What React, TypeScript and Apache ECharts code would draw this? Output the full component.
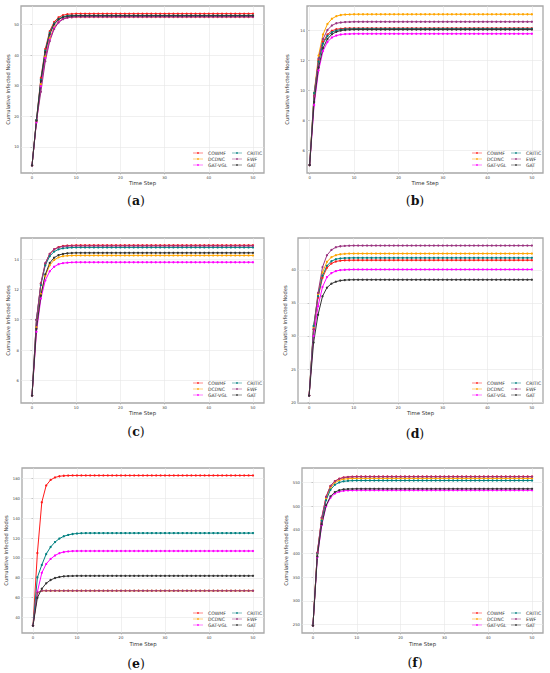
import React, { useEffect, useRef } from "react";
import * as echarts from "echarts";

const METHODS = ["COWMF", "DCDNC", "GAT-VGL", "CRITIC", "EWF", "GAT"];
const COLORS = ["#ff1a1a", "#ffa500", "#ff00ff", "#008080", "#9a3480", "#333333"];

const TIME_STEPS = [
  0, 1, 2, 3, 4, 5, 6, 7, 8, 9, 10, 11, 12, 13, 14, 15, 16, 17, 18, 19, 20, 21, 22, 23, 24, 25,
  26, 27, 28, 29, 30, 31, 32, 33, 34, 35, 36, 37, 38, 39, 40, 41, 42, 43, 44, 45, 46, 47, 48, 49, 50,
];
const X_TICKS = [0, 10, 20, 30, 40, 50];

// ---- (a) ----
const A_Y_TICKS = [10, 20, 30, 40, 50];
const A_COWMF = [4, 18.8, 32.5, 42.0, 47.8, 50.8, 52.3, 53.0, 53.3, 53.4, 53.5,
  53.5, 53.5, 53.5, 53.5, 53.5, 53.5, 53.5, 53.5, 53.5, 53.5,
  53.5, 53.5, 53.5, 53.5, 53.5, 53.5, 53.5, 53.5, 53.5, 53.5,
  53.5, 53.5, 53.5, 53.5, 53.5, 53.5, 53.5, 53.5, 53.5, 53.5,
  53.5, 53.5, 53.5, 53.5, 53.5, 53.5, 53.5, 53.5, 53.5, 53.5];
const A_DCDNC = [4, 18.3, 30.5, 39.5, 45.5, 49.0, 50.9, 51.8, 52.2, 52.3, 52.4,
  52.4, 52.4, 52.4, 52.4, 52.4, 52.4, 52.4, 52.4, 52.4, 52.4,
  52.4, 52.4, 52.4, 52.4, 52.4, 52.4, 52.4, 52.4, 52.4, 52.4,
  52.4, 52.4, 52.4, 52.4, 52.4, 52.4, 52.4, 52.4, 52.4, 52.4,
  52.4, 52.4, 52.4, 52.4, 52.4, 52.4, 52.4, 52.4, 52.4, 52.4];
const A_GATVGL = [4, 18.0, 29.8, 39.0, 45.0, 48.8, 50.8, 51.8, 52.2, 52.4, 52.5,
  52.5, 52.5, 52.5, 52.5, 52.5, 52.5, 52.5, 52.5, 52.5, 52.5,
  52.5, 52.5, 52.5, 52.5, 52.5, 52.5, 52.5, 52.5, 52.5, 52.5,
  52.5, 52.5, 52.5, 52.5, 52.5, 52.5, 52.5, 52.5, 52.5, 52.5,
  52.5, 52.5, 52.5, 52.5, 52.5, 52.5, 52.5, 52.5, 52.5, 52.5];
const A_CRITIC = [4, 18.8, 32.0, 41.5, 47.3, 50.3, 51.8, 52.5, 52.8, 52.9, 52.9,
  52.9, 52.9, 52.9, 52.9, 52.9, 52.9, 52.9, 52.9, 52.9, 52.9,
  52.9, 52.9, 52.9, 52.9, 52.9, 52.9, 52.9, 52.9, 52.9, 52.9,
  52.9, 52.9, 52.9, 52.9, 52.9, 52.9, 52.9, 52.9, 52.9, 52.9,
  52.9, 52.9, 52.9, 52.9, 52.9, 52.9, 52.9, 52.9, 52.9, 52.9];
const A_EWF = [4, 18.5, 28.0, 38.0, 44.5, 48.5, 50.6, 51.7, 52.2, 52.4, 52.5,
  52.5, 52.5, 52.5, 52.5, 52.5, 52.5, 52.5, 52.5, 52.5, 52.5,
  52.5, 52.5, 52.5, 52.5, 52.5, 52.5, 52.5, 52.5, 52.5, 52.5,
  52.5, 52.5, 52.5, 52.5, 52.5, 52.5, 52.5, 52.5, 52.5, 52.5,
  52.5, 52.5, 52.5, 52.5, 52.5, 52.5, 52.5, 52.5, 52.5, 52.5];
const A_GAT = [4, 18.6, 31.5, 41.0, 46.8, 50.0, 51.6, 52.3, 52.6, 52.7, 52.8,
  52.8, 52.8, 52.8, 52.8, 52.8, 52.8, 52.8, 52.8, 52.8, 52.8,
  52.8, 52.8, 52.8, 52.8, 52.8, 52.8, 52.8, 52.8, 52.8, 52.8,
  52.8, 52.8, 52.8, 52.8, 52.8, 52.8, 52.8, 52.8, 52.8, 52.8,
  52.8, 52.8, 52.8, 52.8, 52.8, 52.8, 52.8, 52.8, 52.8, 52.8];

// ---- (b) ----
const B_Y_TICKS = [6, 8, 10, 12, 14];
const B_COWMF = [5, 9.6, 12.0, 13.2, 13.7, 13.95, 14.05, 14.09, 14.11, 14.12, 14.12,
  14.12, 14.12, 14.12, 14.12, 14.12, 14.12, 14.12, 14.12, 14.12, 14.12,
  14.12, 14.12, 14.12, 14.12, 14.12, 14.12, 14.12, 14.12, 14.12, 14.12,
  14.12, 14.12, 14.12, 14.12, 14.12, 14.12, 14.12, 14.12, 14.12, 14.12,
  14.12, 14.12, 14.12, 14.12, 14.12, 14.12, 14.12, 14.12, 14.12, 14.12];
const B_DCDNC = [5, 9.8, 12.3, 13.7, 14.4, 14.75, 14.92, 15.0, 15.03, 15.04, 15.05,
  15.05, 15.05, 15.05, 15.05, 15.05, 15.05, 15.05, 15.05, 15.05, 15.05,
  15.05, 15.05, 15.05, 15.05, 15.05, 15.05, 15.05, 15.05, 15.05, 15.05,
  15.05, 15.05, 15.05, 15.05, 15.05, 15.05, 15.05, 15.05, 15.05, 15.05,
  15.05, 15.05, 15.05, 15.05, 15.05, 15.05, 15.05, 15.05, 15.05, 15.05];
const B_GATVGL = [5, 9.0, 11.3, 12.6, 13.2, 13.5, 13.63, 13.7, 13.73, 13.74, 13.75,
  13.75, 13.75, 13.75, 13.75, 13.75, 13.75, 13.75, 13.75, 13.75, 13.75,
  13.75, 13.75, 13.75, 13.75, 13.75, 13.75, 13.75, 13.75, 13.75, 13.75,
  13.75, 13.75, 13.75, 13.75, 13.75, 13.75, 13.75, 13.75, 13.75, 13.75,
  13.75, 13.75, 13.75, 13.75, 13.75, 13.75, 13.75, 13.75, 13.75, 13.75];
const B_CRITIC = [5, 9.8, 11.9, 13.1, 13.6, 13.85, 13.97, 14.03, 14.06, 14.07, 14.08,
  14.08, 14.08, 14.08, 14.08, 14.08, 14.08, 14.08, 14.08, 14.08, 14.08,
  14.08, 14.08, 14.08, 14.08, 14.08, 14.08, 14.08, 14.08, 14.08, 14.08,
  14.08, 14.08, 14.08, 14.08, 14.08, 14.08, 14.08, 14.08, 14.08, 14.08,
  14.08, 14.08, 14.08, 14.08, 14.08, 14.08, 14.08, 14.08, 14.08, 14.08];
const B_EWF = [5, 9.6, 12.1, 13.4, 14.0, 14.3, 14.45, 14.5, 14.53, 14.54, 14.55,
  14.55, 14.55, 14.55, 14.55, 14.55, 14.55, 14.55, 14.55, 14.55, 14.55,
  14.55, 14.55, 14.55, 14.55, 14.55, 14.55, 14.55, 14.55, 14.55, 14.55,
  14.55, 14.55, 14.55, 14.55, 14.55, 14.55, 14.55, 14.55, 14.55, 14.55,
  14.55, 14.55, 14.55, 14.55, 14.55, 14.55, 14.55, 14.55, 14.55, 14.55];
const B_GAT = [5, 9.2, 11.5, 12.8, 13.4, 13.72, 13.88, 13.96, 14.0, 14.02, 14.03,
  14.03, 14.03, 14.03, 14.03, 14.03, 14.03, 14.03, 14.03, 14.03, 14.03,
  14.03, 14.03, 14.03, 14.03, 14.03, 14.03, 14.03, 14.03, 14.03, 14.03,
  14.03, 14.03, 14.03, 14.03, 14.03, 14.03, 14.03, 14.03, 14.03, 14.03,
  14.03, 14.03, 14.03, 14.03, 14.03, 14.03, 14.03, 14.03, 14.03, 14.03];

// ---- (c) ----
const C_Y_TICKS = [6, 8, 10, 12, 14];
const C_COWMF = [5, 10.0, 12.4, 13.7, 14.35, 14.65, 14.8, 14.87, 14.9, 14.91, 14.92,
  14.92, 14.92, 14.92, 14.92, 14.92, 14.92, 14.92, 14.92, 14.92, 14.92,
  14.92, 14.92, 14.92, 14.92, 14.92, 14.92, 14.92, 14.92, 14.92, 14.92,
  14.92, 14.92, 14.92, 14.92, 14.92, 14.92, 14.92, 14.92, 14.92, 14.92,
  14.92, 14.92, 14.92, 14.92, 14.92, 14.92, 14.92, 14.92, 14.92, 14.92];
const C_DCDNC = [5, 9.5, 11.7, 12.9, 13.6, 13.95, 14.12, 14.2, 14.23, 14.24, 14.25,
  14.25, 14.25, 14.25, 14.25, 14.25, 14.25, 14.25, 14.25, 14.25, 14.25,
  14.25, 14.25, 14.25, 14.25, 14.25, 14.25, 14.25, 14.25, 14.25, 14.25,
  14.25, 14.25, 14.25, 14.25, 14.25, 14.25, 14.25, 14.25, 14.25, 14.25,
  14.25, 14.25, 14.25, 14.25, 14.25, 14.25, 14.25, 14.25, 14.25, 14.25];
const C_GATVGL = [5, 9.2, 11.4, 12.6, 13.2, 13.5, 13.67, 13.74, 13.77, 13.79, 13.8,
  13.8, 13.8, 13.8, 13.8, 13.8, 13.8, 13.8, 13.8, 13.8, 13.8,
  13.8, 13.8, 13.8, 13.8, 13.8, 13.8, 13.8, 13.8, 13.8, 13.8,
  13.8, 13.8, 13.8, 13.8, 13.8, 13.8, 13.8, 13.8, 13.8, 13.8,
  13.8, 13.8, 13.8, 13.8, 13.8, 13.8, 13.8, 13.8, 13.8, 13.8];
const C_CRITIC = [5, 10.0, 12.3, 13.6, 14.2, 14.5, 14.65, 14.72, 14.75, 14.77, 14.78,
  14.78, 14.78, 14.78, 14.78, 14.78, 14.78, 14.78, 14.78, 14.78, 14.78,
  14.78, 14.78, 14.78, 14.78, 14.78, 14.78, 14.78, 14.78, 14.78, 14.78,
  14.78, 14.78, 14.78, 14.78, 14.78, 14.78, 14.78, 14.78, 14.78, 14.78,
  14.78, 14.78, 14.78, 14.78, 14.78, 14.78, 14.78, 14.78, 14.78, 14.78];
const C_EWF = [5, 10.0, 12.4, 13.75, 14.35, 14.65, 14.78, 14.84, 14.87, 14.88, 14.88,
  14.88, 14.88, 14.88, 14.88, 14.88, 14.88, 14.88, 14.88, 14.88, 14.88,
  14.88, 14.88, 14.88, 14.88, 14.88, 14.88, 14.88, 14.88, 14.88, 14.88,
  14.88, 14.88, 14.88, 14.88, 14.88, 14.88, 14.88, 14.88, 14.88, 14.88,
  14.88, 14.88, 14.88, 14.88, 14.88, 14.88, 14.88, 14.88, 14.88, 14.88];
const C_GAT = [5, 9.4, 11.6, 13.0, 13.75, 14.1, 14.27, 14.35, 14.39, 14.41, 14.42,
  14.42, 14.42, 14.42, 14.42, 14.42, 14.42, 14.42, 14.42, 14.42, 14.42,
  14.42, 14.42, 14.42, 14.42, 14.42, 14.42, 14.42, 14.42, 14.42, 14.42,
  14.42, 14.42, 14.42, 14.42, 14.42, 14.42, 14.42, 14.42, 14.42, 14.42,
  14.42, 14.42, 14.42, 14.42, 14.42, 14.42, 14.42, 14.42, 14.42, 14.42];

// ---- (d) ----
const D_Y_TICKS = [20, 25, 30, 35, 40];
const D_COWMF = [21, 31.0, 35.8, 38.8, 40.3, 40.95, 41.25, 41.38, 41.42, 41.44, 41.45,
  41.45, 41.45, 41.45, 41.45, 41.45, 41.45, 41.45, 41.45, 41.45, 41.45,
  41.45, 41.45, 41.45, 41.45, 41.45, 41.45, 41.45, 41.45, 41.45, 41.45,
  41.45, 41.45, 41.45, 41.45, 41.45, 41.45, 41.45, 41.45, 41.45, 41.45,
  41.45, 41.45, 41.45, 41.45, 41.45, 41.45, 41.45, 41.45, 41.45, 41.45];
const D_DCDNC = [21, 31.3, 36.3, 39.6, 41.2, 41.9, 42.2, 42.35, 42.41, 42.44, 42.45,
  42.45, 42.45, 42.45, 42.45, 42.45, 42.45, 42.45, 42.45, 42.45, 42.45,
  42.45, 42.45, 42.45, 42.45, 42.45, 42.45, 42.45, 42.45, 42.45, 42.45,
  42.45, 42.45, 42.45, 42.45, 42.45, 42.45, 42.45, 42.45, 42.45, 42.45,
  42.45, 42.45, 42.45, 42.45, 42.45, 42.45, 42.45, 42.45, 42.45, 42.45];
const D_GATVGL = [21, 30.0, 34.5, 37.4, 38.9, 39.5, 39.8, 39.95, 40.0, 40.03, 40.05,
  40.05, 40.05, 40.05, 40.05, 40.05, 40.05, 40.05, 40.05, 40.05, 40.05,
  40.05, 40.05, 40.05, 40.05, 40.05, 40.05, 40.05, 40.05, 40.05, 40.05,
  40.05, 40.05, 40.05, 40.05, 40.05, 40.05, 40.05, 40.05, 40.05, 40.05,
  40.05, 40.05, 40.05, 40.05, 40.05, 40.05, 40.05, 40.05, 40.05, 40.05];
const D_CRITIC = [21, 31.5, 36.0, 39.1, 40.6, 41.3, 41.6, 41.72, 41.77, 41.79, 41.8,
  41.8, 41.8, 41.8, 41.8, 41.8, 41.8, 41.8, 41.8, 41.8, 41.8,
  41.8, 41.8, 41.8, 41.8, 41.8, 41.8, 41.8, 41.8, 41.8, 41.8,
  41.8, 41.8, 41.8, 41.8, 41.8, 41.8, 41.8, 41.8, 41.8, 41.8,
  41.8, 41.8, 41.8, 41.8, 41.8, 41.8, 41.8, 41.8, 41.8, 41.8];
const D_EWF = [21, 31.0, 36.5, 40.4, 42.2, 43.0, 43.4, 43.55, 43.61, 43.64, 43.65,
  43.65, 43.65, 43.65, 43.65, 43.65, 43.65, 43.65, 43.65, 43.65, 43.65,
  43.65, 43.65, 43.65, 43.65, 43.65, 43.65, 43.65, 43.65, 43.65, 43.65,
  43.65, 43.65, 43.65, 43.65, 43.65, 43.65, 43.65, 43.65, 43.65, 43.65,
  43.65, 43.65, 43.65, 43.65, 43.65, 43.65, 43.65, 43.65, 43.65, 43.65];
const D_GAT = [21, 29.0, 33.2, 36.0, 37.3, 37.9, 38.2, 38.37, 38.44, 38.48, 38.5,
  38.5, 38.5, 38.5, 38.5, 38.5, 38.5, 38.5, 38.5, 38.5, 38.5,
  38.5, 38.5, 38.5, 38.5, 38.5, 38.5, 38.5, 38.5, 38.5, 38.5,
  38.5, 38.5, 38.5, 38.5, 38.5, 38.5, 38.5, 38.5, 38.5, 38.5,
  38.5, 38.5, 38.5, 38.5, 38.5, 38.5, 38.5, 38.5, 38.5, 38.5];

// ---- (e) ----
const E_Y_TICKS = [40, 60, 80, 100, 120, 140, 160, 180];
const E_COWMF = [32, 105, 156, 173, 178.5, 181, 182.2, 182.7, 182.9, 183, 183,
  183, 183, 183, 183, 183, 183, 183, 183, 183, 183,
  183, 183, 183, 183, 183, 183, 183, 183, 183, 183,
  183, 183, 183, 183, 183, 183, 183, 183, 183, 183,
  183, 183, 183, 183, 183, 183, 183, 183, 183, 183];
const E_DCDNC = [32, 65, 67, 67, 67, 67, 67, 67, 67, 67, 67,
  67, 67, 67, 67, 67, 67, 67, 67, 67, 67,
  67, 67, 67, 67, 67, 67, 67, 67, 67, 67,
  67, 67, 67, 67, 67, 67, 67, 67, 67, 67,
  67, 67, 67, 67, 67, 67, 67, 67, 67, 67];
const E_GATVGL = [32, 66, 85, 94, 99, 102.5, 104.8, 106, 106.6, 106.9, 107,
  107, 107, 107, 107, 107, 107, 107, 107, 107, 107,
  107, 107, 107, 107, 107, 107, 107, 107, 107, 107,
  107, 107, 107, 107, 107, 107, 107, 107, 107, 107,
  107, 107, 107, 107, 107, 107, 107, 107, 107, 107];
const E_CRITIC = [32, 80.5, 93, 104, 111, 116, 119.5, 121.8, 123.2, 124.1, 124.6,
  124.9, 125, 125, 125, 125, 125, 125, 125, 125, 125,
  125, 125, 125, 125, 125, 125, 125, 125, 125, 125,
  125, 125, 125, 125, 125, 125, 125, 125, 125, 125,
  125, 125, 125, 125, 125, 125, 125, 125, 125, 125];
const E_EWF = [32, 65, 67, 67, 67, 67, 67, 67, 67, 67, 67,
  67, 67, 67, 67, 67, 67, 67, 67, 67, 67,
  67, 67, 67, 67, 67, 67, 67, 67, 67, 67,
  67, 67, 67, 67, 67, 67, 67, 67, 67, 67,
  67, 67, 67, 67, 67, 67, 67, 67, 67, 67];
const E_GAT = [32, 60, 69, 74.5, 77.8, 79.8, 80.9, 81.5, 81.8, 81.9, 82,
  82, 82, 82, 82, 82, 82, 82, 82, 82, 82,
  82, 82, 82, 82, 82, 82, 82, 82, 82, 82,
  82, 82, 82, 82, 82, 82, 82, 82, 82, 82,
  82, 82, 82, 82, 82, 82, 82, 82, 82, 82];

// ---- (f) ----
const F_Y_TICKS = [250, 300, 350, 400, 450, 500, 550];
const F_COWMF = [248, 402, 475, 520, 543, 553, 558.5, 561, 562.2, 562.7, 563,
  563, 563, 563, 563, 563, 563, 563, 563, 563, 563,
  563, 563, 563, 563, 563, 563, 563, 563, 563, 563,
  563, 563, 563, 563, 563, 563, 563, 563, 563, 563,
  563, 563, 563, 563, 563, 563, 563, 563, 563, 563];
const F_DCDNC = [248, 400, 472, 516, 539, 550, 555, 557.5, 558.4, 558.8, 559,
  559, 559, 559, 559, 559, 559, 559, 559, 559, 559,
  559, 559, 559, 559, 559, 559, 559, 559, 559, 559,
  559, 559, 559, 559, 559, 559, 559, 559, 559, 559,
  559, 559, 559, 559, 559, 559, 559, 559, 559, 559];
const F_GATVGL = [248, 392, 460, 500, 518, 527, 531, 532.8, 533.5, 533.8, 534,
  534, 534, 534, 534, 534, 534, 534, 534, 534, 534,
  534, 534, 534, 534, 534, 534, 534, 534, 534, 534,
  534, 534, 534, 534, 534, 534, 534, 534, 534, 534,
  534, 534, 534, 534, 534, 534, 534, 534, 534, 534];
const F_CRITIC = [248, 400, 470, 513, 535, 545.5, 550.5, 552.8, 553.8, 554.3, 554.5,
  554.5, 554.5, 554.5, 554.5, 554.5, 554.5, 554.5, 554.5, 554.5, 554.5,
  554.5, 554.5, 554.5, 554.5, 554.5, 554.5, 554.5, 554.5, 554.5, 554.5,
  554.5, 554.5, 554.5, 554.5, 554.5, 554.5, 554.5, 554.5, 554.5, 554.5,
  554.5, 554.5, 554.5, 554.5, 554.5, 554.5, 554.5, 554.5, 554.5, 554.5];
const F_EWF = [248, 402, 476, 520, 543, 553, 558, 560.8, 561.8, 562.3, 562.5,
  562.5, 562.5, 562.5, 562.5, 562.5, 562.5, 562.5, 562.5, 562.5, 562.5,
  562.5, 562.5, 562.5, 562.5, 562.5, 562.5, 562.5, 562.5, 562.5, 562.5,
  562.5, 562.5, 562.5, 562.5, 562.5, 562.5, 562.5, 562.5, 562.5, 562.5,
  562.5, 562.5, 562.5, 562.5, 562.5, 562.5, 562.5, 562.5, 562.5, 562.5];
const F_GAT = [248, 394, 462, 502, 521, 530, 534, 535.8, 536.5, 536.8, 537,
  537, 537, 537, 537, 537, 537, 537, 537, 537, 537,
  537, 537, 537, 537, 537, 537, 537, 537, 537, 537,
  537, 537, 537, 537, 537, 537, 537, 537, 537, 537,
  537, 537, 537, 537, 537, 537, 537, 537, 537, 537];

// ---- layout (positions/styles only) ----
const PANELS = [
  { label: "a", data: [A_COWMF, A_DCDNC, A_GATVGL, A_CRITIC, A_EWF, A_GAT], yTicks: A_Y_TICKS,
    yMin: 1.5, yMax: 56, xMin: -2.5, grid: { left: 21, top: 6, width: 243, height: 167 },
    yNameGap: 8.5, xNameGap: 7.5, cap: [136, 200] },
  { label: "b", data: [B_COWMF, B_DCDNC, B_GATVGL, B_CRITIC, B_EWF, B_GAT], yTicks: B_Y_TICKS,
    yMin: 4.47, yMax: 15.6, xMin: -0.6, grid: { left: 307, top: 6, width: 236, height: 167 },
    yNameGap: 18, xNameGap: 7.5, cap: [415, 200] },
  { label: "c", data: [C_COWMF, C_DCDNC, C_GATVGL, C_CRITIC, C_EWF, C_GAT], yTicks: C_Y_TICKS,
    yMin: 4.5, yMax: 15.4, xMin: -2.5, grid: { left: 21, top: 238, width: 243, height: 165 },
    yNameGap: 9.2, xNameGap: 7.5, cap: [136, 431] },
  { label: "d", data: [D_COWMF, D_DCDNC, D_GATVGL, D_CRITIC, D_EWF, D_GAT], yTicks: D_Y_TICKS,
    yMin: 19.87, yMax: 44.8, xMin: -2.5, grid: { left: 298, top: 238, width: 245, height: 165 },
    yNameGap: 7.8, xNameGap: 7.3, cap: [415, 433] },
  { label: "e", data: [E_COWMF, E_DCDNC, E_GATVGL, E_CRITIC, E_EWF, E_GAT], yTicks: E_Y_TICKS,
    yMin: 24.5, yMax: 190.5, xMin: -2.5, grid: { left: 22, top: 468, width: 242, height: 165 },
    yNameGap: 10.5, xNameGap: 8.5, cap: [136, 663] },
  { label: "f", data: [F_COWMF, F_DCDNC, F_GATVGL, F_CRITIC, F_EWF, F_GAT], yTicks: F_Y_TICKS,
    yMin: 232, yMax: 581, xMin: -2.5, grid: { left: 302, top: 468, width: 241, height: 165 },
    yNameGap: 12.8, xNameGap: 8.5, cap: [415, 662] },
];

const FONT = "DejaVu Sans";
// legend icon: thin line with a dot in the middle
const LEGEND_ICON =
  "path://M0,4.5L20,4.5L20,5.5L0,5.5Z M10,3.2A1.8,1.8,0,1,1,10,6.8A1.8,1.8,0,1,1,10,3.2Z";

function buildOption() {
  const grid: any[] = [];
  const xAxis: any[] = [];
  const yAxis: any[] = [];
  const series: any[] = [];
  const legend: any[] = [];
  const graphic: any[] = [];

  PANELS.forEach((p, i) => {
    const g = p.grid;
    grid.push({
      left: g.left, top: g.top, width: g.width, height: g.height,
      show: true, borderColor: "#a8a8a8", borderWidth: 1.3, backgroundColor: "#ffffff",
      containLabel: false,
    });
    xAxis.push({
      type: "value", gridIndex: i, min: p.xMin, max: 52.5,
      name: "Time Step", nameLocation: "middle", nameGap: p.xNameGap,
      nameTextStyle: { fontFamily: FONT, fontSize: 5.4, color: "#333" },
      axisLine: { show: false },
      axisTick: { show: true, length: 1.5, customValues: X_TICKS, lineStyle: { color: "#999", width: 0.5 } },
      axisLabel: { customValues: X_TICKS, fontFamily: FONT, fontSize: 3.8, color: "#444", margin: 2 },
      splitLine: { show: true, lineStyle: { color: "#e6e6e6", width: 0.6 } },
    });
    yAxis.push({
      type: "value", gridIndex: i, min: p.yMin, max: p.yMax,
      name: "Cumulative Infected Nodes", nameLocation: "middle", nameGap: p.yNameGap,
      nameTextStyle: { fontFamily: FONT, fontSize: 5.2, color: "#333" },
      axisLine: { show: false },
      axisTick: { show: true, length: 1.5, customValues: p.yTicks, lineStyle: { color: "#999", width: 0.5 } },
      axisLabel: { customValues: p.yTicks, fontFamily: FONT, fontSize: 3.8, color: "#444", margin: 2 },
      splitLine: { show: true, lineStyle: { color: "#e6e6e6", width: 0.6 } },
    });
    p.data.forEach((vals, j) => {
      series.push({
        type: "line", name: METHODS[j], xAxisIndex: i, yAxisIndex: i,
        data: TIME_STEPS.map((t, k) => [t, vals[k]]),
        symbol: "circle", symbolSize: 2.3, showSymbol: true,
        lineStyle: { color: COLORS[j], width: 1 },
        itemStyle: { color: COLORS[j], borderWidth: 0 },
        emphasis: { disabled: true },
        silent: true,
      });
    });
    const right = g.left + g.width;
    const bottom = g.top + g.height;
    [[0, 1, 2], [3, 4, 5]].forEach((cols, c) => {
      legend.push({
        orient: "vertical",
        left: right - (c === 0 ? 71 : 32),
        top: bottom - 22.5,
        padding: 0,
        itemGap: 1,
        itemWidth: 10,
        itemHeight: 5,
        icon: LEGEND_ICON,
        data: cols.map((k) => METHODS[k]),
        textStyle: { fontFamily: FONT, fontSize: 4.6, color: "#333" },
        selectedMode: false,
      });
    });
    graphic.push({
      type: "text", x: p.cap[0], y: p.cap[1],
      style: {
        text: "{p|(}{b|" + p.label + "}{p|)}",
        align: "center", verticalAlign: "middle",
        rich: {
          p: { fontFamily: "DejaVu Serif", fontSize: 12.5, fill: "#111" },
          b: { fontFamily: "DejaVu Serif", fontSize: 12.5, fontWeight: "bold", fill: "#111" },
        },
      },
    });
  });

  return {
    animation: false,
    backgroundColor: "#ffffff",
    grid, xAxis, yAxis, series, legend, graphic,
  };
}

export default function App() {
  const ref = useRef<HTMLDivElement>(null);
  useEffect(() => {
    if (!ref.current) return;
    const chart = echarts.init(ref.current, null, { renderer: "svg" });
    chart.setOption(buildOption() as any);
    return () => chart.dispose();
  }, []);
  return (
    <div
      ref={ref}
      style={{ position: "fixed", left: 0, top: 0, width: 550, height: 673, background: "#fff" }}
    />
  );
}
